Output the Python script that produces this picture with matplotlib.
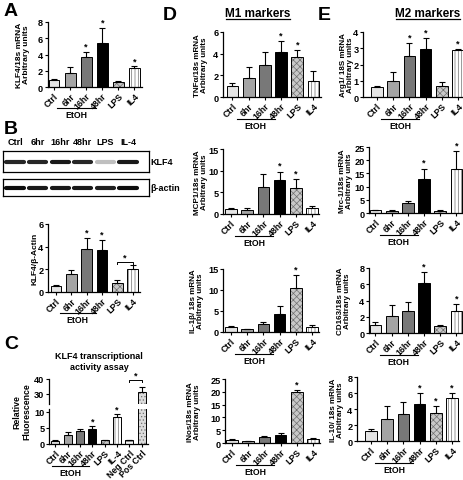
import numpy as np
import matplotlib
matplotlib.use('Agg')
import matplotlib.pyplot as plt
import matplotlib.transforms as mtransforms
from matplotlib.lines import Line2D

plt.rcParams['font.family'] = ['Liberation Sans', 'DejaVu Sans']
plt.rcParams['font.weight'] = 'bold'
plt.rcParams['hatch.linewidth'] = 0.5

# ---- data ----
groups = ['Ctrl', '6hr', '16hr', '48hr', 'LPS', 'IL4']
groups_c = ['Ctrl', '6hr', '16hr', '48hr', 'LPS', 'IL-4', 'Neg Ctrl', 'Pos Ctrl']
blot_lanes = ['Ctrl', '6hr', '16hr', '48hr', 'LPS', 'IL-4']

klf4_mrna = [0.9, 1.7, 3.65, 5.4, 0.65, 2.3]
klf4_mrna_err = [0.1, 0.8, 0.7, 1.9, 0.05, 0.25]
klf4_mrna_sig = [2, 3, 5]

klf4_band = [0.85, 0.85, 0.9, 0.85, 0.25, 0.9]
actin_band = [0.95, 0.9, 0.9, 0.9, 0.88, 0.95]

klf4_prot = [0.55, 1.6, 3.8, 3.7, 0.8, 2.05]
klf4_prot_err = [0.1, 0.3, 1.0, 0.9, 0.25, 0.3]
klf4_prot_sig = [2, 3]

klf4_act = [1.0, 2.8, 3.9, 4.7, 1.1, 8.5, 1.1, 31.5]
klf4_act_err = [0.2, 0.8, 0.9, 0.9, 0.2, 0.7, 0.15, 3.0]
klf4_act_sig = [3, 5]

tnfa = [1.0, 1.75, 3.0, 4.15, 3.65, 1.5]
tnfa_err = [0.3, 1.05, 1.2, 1.0, 0.65, 0.9]
mcp1 = [1.2, 1.0, 6.3, 7.8, 6.0, 1.3]
mcp1_err = [0.3, 0.5, 3.0, 2.0, 2.0, 0.5]
il1b = [1.1, 0.6, 1.8, 4.3, 10.5, 1.2]
il1b_err = [0.4, 0.2, 0.5, 2.0, 3.0, 0.35]
inos = [1.1, 0.6, 2.3, 3.1, 19.8, 1.4]
inos_err = [0.3, 0.2, 0.4, 1.0, 1.0, 0.5]

arg1 = [0.6, 1.0, 2.5, 2.95, 0.7, 2.9]
arg1_err = [0.1, 0.55, 0.8, 0.7, 0.2, 0.05]
mrc1 = [1.0, 0.8, 3.6, 13.0, 0.9, 16.5]
mrc1_err = [0.2, 0.2, 0.8, 3.8, 0.2, 7.0]
cd163 = [1.0, 2.1, 2.7, 6.2, 0.9, 2.7]
cd163_err = [0.3, 1.3, 1.1, 1.3, 0.1, 0.9]
il10 = [1.2, 2.8, 3.4, 4.6, 3.5, 5.4]
il10_err = [0.35, 1.6, 1.5, 1.4, 0.9, 0.6]

# bar styles: (facecolor, hatch)
styles = [('#e4e4e4', None), ('#a4a4a4', None), ('#787878', None),
          ('#000000', None), ('#c8c8c8', 'xxxxx'), ('#ffffff', '|||||')]
styles_c = styles[:5] + [('#ffffff', '|||||'), ('#f4f4f4', '-----'), ('#dcdcdc', '.....')]

W, H = 464, 481
fig = plt.figure(figsize=(W / 100, H / 100), dpi=100)


def add_ax(left, top, right, bottom):
    return fig.add_axes([left / W, 1 - bottom / H, (right - left) / W, (bottom - top) / H])


def ftext(x, y, s, **kw):
    fig.text(x / W, 1 - y / H, s, **kw)


def bars(ax, vals, errs, sty, width):
    x = np.arange(len(vals))
    for i, (v, (fc, hatch)) in enumerate(zip(vals, sty)):
        if hatch:
            ax.bar(x[i], v, width, color=fc, hatch=hatch, edgecolor='#707070', linewidth=0, zorder=2)
            ax.bar(x[i], v, width, fill=False, edgecolor='k', linewidth=0.7, zorder=3)
        else:
            ax.bar(x[i], v, width, color=fc, edgecolor='k', linewidth=0.7, zorder=2)
    ax.errorbar(x, vals, yerr=[np.zeros(len(vals)), errs], fmt='none', ecolor='k',
                elinewidth=0.8, capsize=2.2, capthick=0.8, zorder=4)


def style_ax(ax, yticks, ylim, xlim, labels):
    for s in ['top', 'right']:
        ax.spines[s].set_visible(False)
    for s in ['left', 'bottom']:
        ax.spines[s].set_linewidth(0.9)
    ax.set_ylim(*ylim)
    ax.set_xlim(*xlim)
    ax.set_yticks(yticks)
    ax.tick_params(axis='y', length=2.5, width=0.8, labelsize=6.6, pad=0.8)
    ax.tick_params(axis='x', length=2, width=0.8, pad=1)
    if labels is not None:
        ax.set_xticks(range(len(labels)))
        ax.set_xticklabels(labels, rotation=45, ha='right', rotation_mode='anchor',
                           fontsize=6.3, fontweight='bold')
    else:
        ax.set_xticks([])


def stars(ax, vals, errs, sig, off):
    for i in sig:
        ax.text(i, vals[i] + errs[i] + off, '*', ha='center', va='bottom', fontsize=6.5)


def etoh(ax, x0, x1, dy=15):
    tr = ax.get_xaxis_transform() + mtransforms.ScaledTranslation(0, -dy / 72, fig.dpi_scale_trans)
    ax.plot([x0, x1], [0, 0], color='k', lw=0.8, transform=tr, clip_on=False)
    tr2 = ax.get_xaxis_transform() + mtransforms.ScaledTranslation(0, -(dy + 1.5) / 72, fig.dpi_scale_trans)
    ax.text((x0 + x1) / 2, 0, 'EtOH', transform=tr2, ha='center', va='top', fontsize=6.3)


# ---- panel A ----
ax = add_ax(47.6, 23, 142.4, 88)
bars(ax, klf4_mrna, klf4_mrna_err, styles, 0.68)
style_ax(ax, [0, 2, 4, 6, 8], (0, 8), (-0.4, 5.5), groups)
stars(ax, klf4_mrna, klf4_mrna_err, klf4_mrna_sig, 0.15)
etoh(ax, 0.2, 2.6)
ftext(23, 55, 'KLF4/18s mRNA\nArbitrary units', rotation=90, ha='center', va='center',
      fontsize=6, linespacing=1.1)
ftext(4, 12, 'A', fontsize=14, fontweight='bold', va='center')

# ---- panel B blot ----
ftext(4, 130, 'B', fontsize=14, fontweight='bold', va='center')
for top, bot, inten, name in [(152, 173, klf4_band, 'KLF4'), (180, 197, actin_band, 'β-actin')]:
    bx = add_ax(3, top, 149, bot)
    bx.set_xlim(-0.53, 5.93)
    bx.set_ylim(0, 1)
    bx.set_xticks([])
    bx.set_yticks([])
    for s in bx.spines.values():
        s.set_linewidth(0.9)
    for i, v in enumerate(inten):
        bx.plot([i - 0.38, i + 0.38], [0.5, 0.5], lw=3.0, color=str(1 - v),
                solid_capstyle='round')
        bx.plot([i - 0.42, i + 0.42], [0.5, 0.5], lw=1.5, color=str(1 - v * 0.6),
                solid_capstyle='round', zorder=1)
    bx.text(1.01, 0.5, name, transform=bx.transAxes, ha='left', va='center', fontsize=6.5)
    if name == 'KLF4':
        for i, lab in enumerate(blot_lanes):
            bx.text(i, 1.25, lab, ha='center', va='bottom', fontsize=6.5, clip_on=False)

# ---- panel B bar chart ----
ax = add_ax(48, 225, 140.4, 293)
bars(ax, klf4_prot, klf4_prot_err, styles, 0.7)
style_ax(ax, [0, 2, 4, 6], (0, 6), (-0.52, 5.5), groups)
stars(ax, klf4_prot, klf4_prot_err, klf4_prot_sig, 0.12)
ax.plot([4, 4, 5, 5], [2.5, 2.65, 2.65, 2.5], color='k', lw=0.7, clip_on=False)
ax.text(4.5, 2.7, '*', ha='center', va='bottom', fontsize=6.5)
etoh(ax, 0.25, 2.6)
ftext(35, 259, 'KLF4/β-Actin', rotation=90, ha='center', va='center', fontsize=6)

# ---- panel C ----
ftext(4, 345, 'C', fontsize=14, fontweight='bold', va='center')
ftext(99, 362, 'KLF4 transcriptional\nactivity assay', ha='center', va='center',
      fontsize=6.5, linespacing=1.2)
lo = add_ax(49, 410, 148, 445)
hi = add_ax(49, 380, 148, 405)
bars(lo, klf4_act, klf4_act_err, styles_c, 0.65)
bars(hi, klf4_act, klf4_act_err, styles_c, 0.65)
style_ax(lo, [0, 5, 10], (0, 10.9), (-0.52, 7.5), groups_c)
style_ax(hi, [30, 40], (23.3, 40), (-0.52, 7.5), None)
hi.spines['bottom'].set_visible(False)
stars(lo, klf4_act, klf4_act_err, klf4_act_sig, 0.2)
hi.plot([6, 6, 7, 7], [38.2, 39.2, 39.2, 38.2], color='k', lw=0.7, clip_on=False)
hi.text(6.5, 39.4, '*', ha='center', va='bottom', fontsize=6.5, clip_on=False)
etoh(lo, -0.25, 2.75, dy=16)
ftext(22, 412, 'Relative\nFluorescence', rotation=90, ha='center', va='center',
      fontsize=6.3, linespacing=1.1)

# ---- panel D / E ----
ftext(163, 15, 'D', fontsize=14, fontweight='bold', va='center')
ftext(318, 15, 'E', fontsize=14, fontweight='bold', va='center')


def header(x, y, s, w):
    ftext(x, y, s, ha='center', va='center', fontsize=8.5)
    fig.add_artist(Line2D([(x - w / 2) / W, (x + w / 2) / W], [1 - (y + 6) / H] * 2,
                          color='k', lw=0.9))


header(258, 14, 'M1 markers', 64)
header(428, 14, 'M2 markers', 64)

# (values, errors, significant bars, yticks, ymax, ylabel) + layout (top, bottom, axis x, first bar x, label x)
panels = [
    (tnfa, tnfa_err, [3, 4], [0, 2, 4, 6], 6, 'TNFα/18s mRNA', 33, 98, 223, 232.5, 201),
    (mcp1, mcp1_err, [3, 4], [0, 5, 10, 15], 15, 'MCP1/18s mRNA', 150, 215, 223, 231, 201),
    (il1b, il1b_err, [4], [0, 5, 10, 15], 15, 'IL-1β/ 18s mRNA', 270, 333, 223, 231, 197),
    (inos, inos_err, [4], [0, 5, 10, 15, 20, 25], 25, 'iNos/18s mRNA', 380, 444, 225, 232, 194),
    (arg1, arg1_err, [2, 3, 5], [0, 1, 2, 3, 4], 4, 'Arg1/ 18S mRNA', 33, 98, 363, 377, 347),
    (mrc1, mrc1_err, [3, 5], [0, 5, 10, 15, 20, 25], 25, 'Mrc-1/18s mRNA', 148, 214, 369, 375.5, 346),
    (cd163, cd163_err, [3, 5], [0, 2, 4, 6, 8], 8, 'CD163/18s mRNA', 269, 334, 369, 375.5, 344),
    (il10, il10_err, [3, 4, 5], [0, 2, 4, 6, 8], 8, 'IL-10/ 18s mRNA', 378, 442, 357, 371, 337),
]

step = 16.2
for vals, errs, sig, yt, ymax, name, top, bot, left, first, lab_x in panels:
    x_lo = -(first - left) / step
    right = min(left + (5.45 - x_lo) * step, 464)
    ax = add_ax(left, top, right, bot)
    bars(ax, vals, errs, styles, 0.72)
    style_ax(ax, yt, (0, ymax), (x_lo, x_lo + (right - left) / step), groups)
    stars(ax, vals, errs, sig, ymax * 0.025)
    etoh(ax, 0.25, 2.6, dy=16)
    ftext(lab_x, (top + bot) / 2, name + '\nArbitrary units', rotation=90,
          ha='center', va='center', fontsize=5.8, linespacing=1.1)

fig.savefig('out.png', dpi=100)
